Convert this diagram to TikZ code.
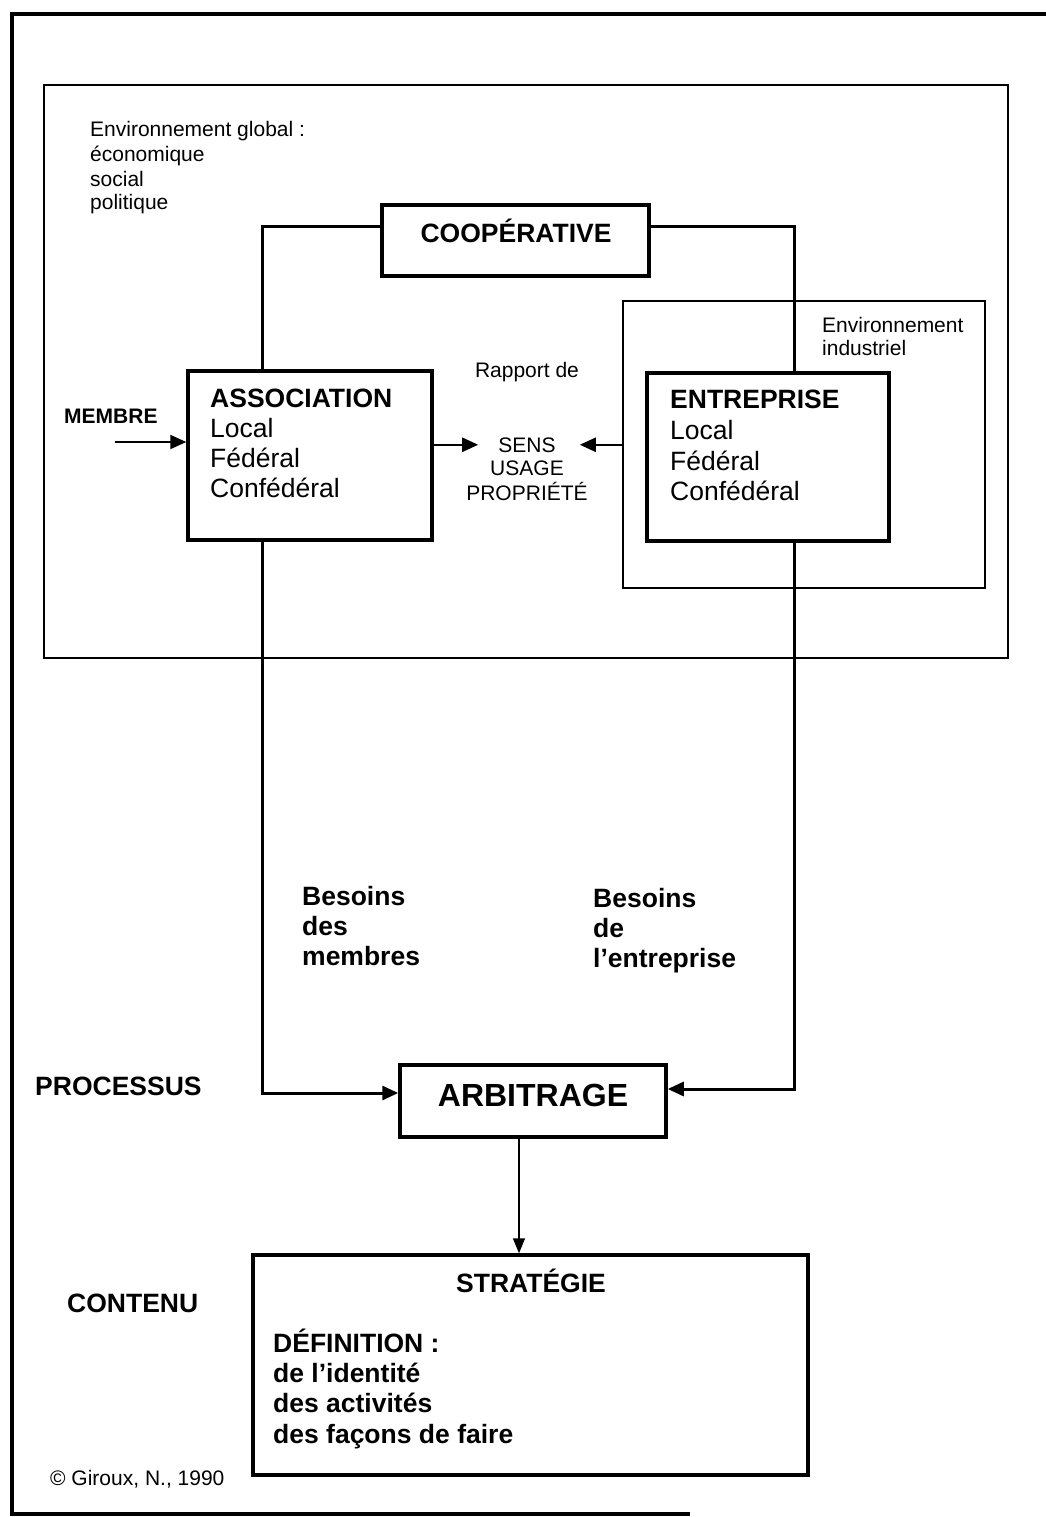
\documentclass[tikz,border=0pt]{standalone}
\usepackage{fontspec}
\setmainfont{Liberation Sans}
\usetikzlibrary{arrows.meta,calc}
\begin{document}
\begin{tikzpicture}[x=1pt,y=-1pt,
  frameline/.style={line width=4pt},
  envbox/.style={draw, line width=2pt, inner sep=0pt},
  mainbox/.style={draw, line width=3.5pt, inner sep=0pt},
  conn/.style={line width=3pt},
  arr/.style={-{Triangle[length=16pt,width=14pt]}},
  thinarr/.style={line width=1.5pt,-{Triangle[length=15pt,width=12pt]}},
  txt/.style={inner sep=0pt, anchor=base west, font=\fontsize{21}{24}\selectfont},
  txtb/.style={txt, font=\bfseries\fontsize{21}{24}\selectfont},
  txtc/.style={txt, anchor=base},
  bigtxt/.style={inner sep=0pt, anchor=base west, font=\fontsize{26.5}{30}\selectfont},
  bigbold/.style={bigtxt, font=\bfseries\fontsize{26.5}{30}\selectfont},
  bigboldc/.style={bigbold, anchor=base},
]
\useasboundingbox (0,0) rectangle (1046,1517);

% outer frame (open on the right)
\draw[frameline] (1050,14) -- (12,14) -- (12,1514) -- (690,1514);

% environments
\node[envbox, minimum width=964pt, minimum height=573pt] (globenv) at (526,371.5) {};
\node[envbox, minimum width=362pt, minimum height=287pt] (indenv) at (804,444.5) {};

% main boxes
\node[mainbox, minimum width=267pt, minimum height=71pt]  (coop)   at (515.5,240.5) {};
\node[mainbox, minimum width=244pt, minimum height=169pt] (assoc)  at (310,455.5) {};
\node[mainbox, minimum width=242pt, minimum height=168pt] (entr)   at (768,457) {};
\node[mainbox, minimum width=266pt, minimum height=72pt]  (arb)    at (533,1101) {};
\node[mainbox, minimum width=555pt, minimum height=220pt] (strat)  at (530.5,1365) {};

% global environment label
\node[txt] (eg1) at (90,137) {Environnement global :};
\node[txt] (eg2) at (90,162) {économique};
\node[txt] (eg3) at (90,186) {social};
\node[txt] (eg4) at (90,210) {politique};

% industrial environment label
\node[txt] (ei1) at (822,332) {Environnement};
\node[txt] (ei2) at (822,355) {industriel};

% box texts
\node[bigboldc] (coopt) at (516,242) {COOPÉRATIVE};

\node[bigbold] (as1) at (210,407) {ASSOCIATION};
\node[bigtxt]  (as2) at (210,437) {Local};
\node[bigtxt]  (as3) at (210,467) {Fédéral};
\node[bigtxt]  (as4) at (210,497) {Confédéral};

\node[bigbold] (en1) at (670,408) {ENTREPRISE};
\node[bigtxt]  (en2) at (670,439) {Local};
\node[bigtxt]  (en3) at (670,470) {Fédéral};
\node[bigtxt]  (en4) at (670,500) {Confédéral};

\node[txtb] (membre) at (64,423) {MEMBRE};

\node[txtc] (rapport) at (527,377) {Rapport de};
\node[txtc] (sens)    at (527,452) {SENS};
\node[txtc] (usage)   at (527,475) {USAGE};
\node[txtc] (prop)    at (527,500) {PROPRIÉTÉ};

\node[bigbold] (bm1) at (302,905) {Besoins};
\node[bigbold] (bm2) at (302,935) {des};
\node[bigbold] (bm3) at (302,965) {membres};

\node[bigbold] (be1) at (593,907) {Besoins};
\node[bigbold] (be2) at (593,937) {de};
\node[bigbold] (be3) at (593,967) {l’entreprise};

\node[bigbold] (proc) at (35,1095) {PROCESSUS};
\node[inner sep=0pt, anchor=base, font=\bfseries\fontsize{32}{36}\selectfont] (arbt) at (533,1106) {ARBITRAGE};

\node[bigbold] (cont) at (67,1312) {CONTENU};
\node[bigboldc] (stratt) at (531,1292) {STRATÉGIE};
\node[bigbold] (d1) at (273,1352) {DÉFINITION :};
\node[bigbold] (d2) at (273,1382) {de l’identité};
\node[bigbold] (d3) at (273,1412) {des activités};
\node[bigbold] (d4) at (273,1443) {des façons de faire};

\node[txt] (copy) at (50,1485) {© Giroux, N., 1990};

% connectors
\draw[conn] ([yshift=-23pt]coop.north west) -| ([xshift=-48pt]assoc.north);
\draw[conn] ([yshift=-23pt]coop.north east) -| ([xshift=26pt]entr.north);

\coordinate (membrein) at (115,442);
\draw[conn, line width=2pt, arr] (membrein) -- (membrein -| assoc.west);

\draw[conn, line width=2.5pt, arr] (assoc.east |- sens.west) -- ([xshift=-20pt]sens.west);
\draw[conn, line width=2.5pt, arr] (indenv.west |- sens.east) -- ([xshift=24pt]sens.east);

\draw[conn, arr] ([xshift=-48pt]assoc.south) |- ([yshift=8pt]arb.west);
\draw[conn, arr] ([xshift=26pt]entr.south) |- ([yshift=12pt]arb.east);

\draw[thinarr] ([xshift=-14pt]arb.south) -- ([xshift=-14pt]arb.south |- strat.north);

\end{tikzpicture}
\end{document}
